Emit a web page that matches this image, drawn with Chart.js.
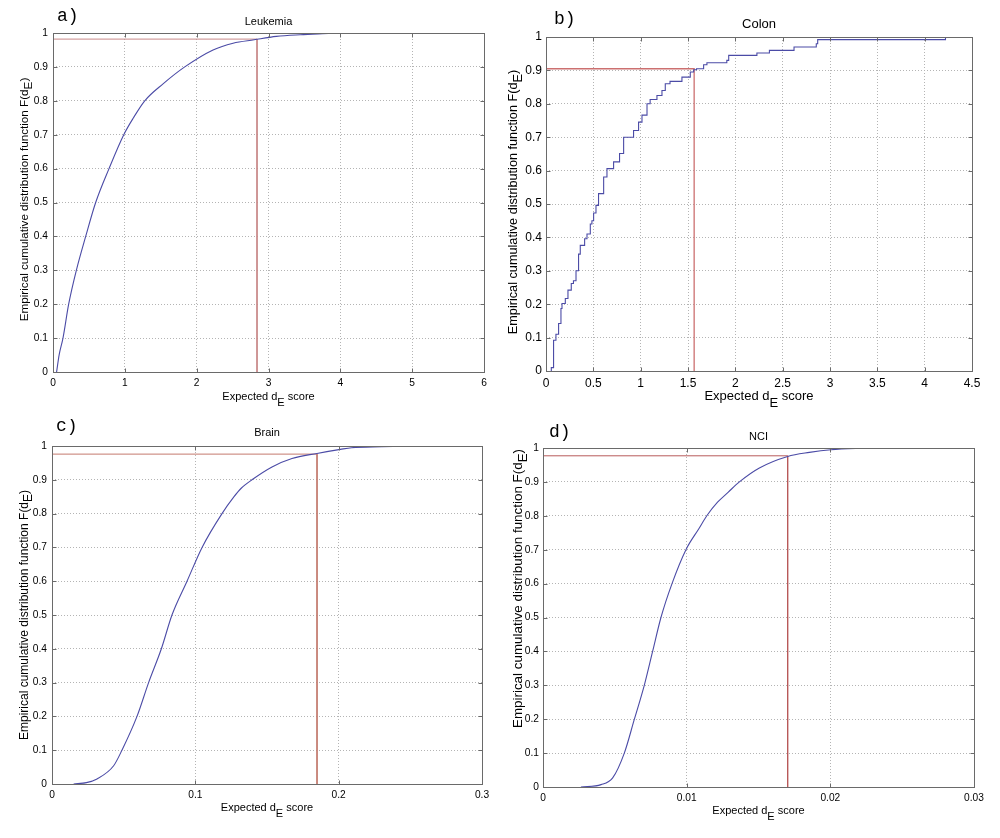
<!DOCTYPE html>
<html>
<head>
<meta charset="utf-8">
<title>Empirical CDF of expected dE score</title>
<script src="https://cdn.jsdelivr.net/npm/chart.js@4/dist/chart.umd.min.js"></script>
<style>
  html, body { margin: 0; padding: 0; background: #fff; }
  #page { position: relative; width: 1000px; height: 838px; }
  .panel { position: absolute; width: 500px; height: 419px; }
</style>
</head>
<body>
<div id="page">
  <div class="panel" style="left:0;top:0"><canvas id="leukChart"></canvas></div>
  <div class="panel" style="left:500px;top:0"><canvas id="colonChart"></canvas></div>
  <div class="panel" style="left:0;top:419px"><canvas id="brainChart"></canvas></div>
  <div class="panel" style="left:500px;top:419px"><canvas id="nciChart"></canvas></div>
</div>
<script>
// shared y axis
const yTicks = [0, 0.1, 0.2, 0.3, 0.4, 0.5, 0.6, 0.7, 0.8, 0.9, 1];
const yTickLabels = ['0', '0.1', '0.2', '0.3', '0.4', '0.5', '0.6', '0.7', '0.8', '0.9', '1'];

// a) Leukemia
const leukX = [0.05, 0.085, 0.139, 0.218, 0.325, 0.455, 0.594, 0.78, 0.985, 1.12, 1.277, 1.532,
  1.834, 2.228, 2.507, 2.80, 3.11, 3.44, 3.75, 4.0];
const leukY = [0, 0.05, 0.1, 0.2, 0.3, 0.4, 0.5, 0.6, 0.7, 0.75, 0.8, 0.85,
  0.9, 0.95, 0.97, 0.98, 0.99, 0.995, 0.998, 1.0];
const leukCut = [2.84, 0.982];
const leukTicks = [0, 1, 2, 3, 4, 5, 6];
const leukTickLabels = ['0', '1', '2', '3', '4', '5', '6'];

// b) Colon (step function)
const colonX = [0.05, 0.056, 0.08, 0.105, 0.133, 0.158, 0.169, 0.204, 0.232, 0.267, 0.29, 0.317, 0.344, 0.362,
  0.408, 0.433, 0.468, 0.485, 0.503, 0.528, 0.555, 0.609, 0.644, 0.714, 0.777, 0.82, 0.925, 0.978, 1.014,
  1.067, 1.10, 1.172, 1.225, 1.26, 1.31, 1.436, 1.524, 1.56, 1.59, 1.665, 1.70, 1.91, 1.93, 2.228, 2.36,
  2.62, 2.855, 2.87, 4.22];
const colonY = [0, 0.01, 0.092, 0.11, 0.142, 0.187, 0.202, 0.217, 0.242, 0.262, 0.27, 0.30, 0.35, 0.376,
  0.396, 0.41, 0.44, 0.45, 0.473, 0.496, 0.531, 0.581, 0.606, 0.626, 0.651, 0.70, 0.72, 0.745, 0.766,
  0.80, 0.813, 0.825, 0.84, 0.86, 0.867, 0.88, 0.895, 0.902, 0.905, 0.917, 0.923, 0.93, 0.945, 0.952, 0.96,
  0.97, 0.98, 0.992, 1.0];
const colonCut = [1.565, 0.905];
const colonTicks = [0, 0.5, 1, 1.5, 2, 2.5, 3, 3.5, 4, 4.5];
const colonTickLabels = ['0', '0.5', '1', '1.5', '2', '2.5', '3', '3.5', '4', '4.5'];

// c) Brain
const brainX = [0.0151, 0.024, 0.0314, 0.043, 0.0488, 0.0593, 0.0674, 0.0763, 0.0837, 0.0942, 0.1047,
  0.1186, 0.127, 0.132, 0.1395, 0.1535, 0.1674, 0.1849, 0.2012, 0.209, 0.23, 0.254];
const brainY = [0, 0.004, 0.015, 0.054, 0.1, 0.2, 0.3, 0.4, 0.5, 0.6, 0.7,
  0.8, 0.85, 0.875, 0.9, 0.938, 0.963, 0.978, 0.99, 0.995, 0.998, 1.0];
const brainCut = [0.1849, 0.976];
const brainTicks = [0, 0.1, 0.2, 0.3];
const brainTickLabels = ['0', '0.1', '0.2', '0.3'];

// d) NCI
const nciX = [0.00264, 0.00404, 0.00485, 0.00566, 0.00636, 0.00705, 0.00763, 0.00821, 0.00898, 0.00995,
  0.01088, 0.0114, 0.01215, 0.0129, 0.01367, 0.01506, 0.01703, 0.01854, 0.02005, 0.02262];
const nciY = [0, 0.007, 0.027, 0.1, 0.2, 0.3, 0.4, 0.5, 0.6, 0.7,
  0.764, 0.8, 0.84, 0.87, 0.9, 0.941, 0.975, 0.987, 0.995, 1.0];
const nciCut = [0.01703, 0.977];
const nciTicks = [0, 0.01, 0.02, 0.03];
const nciTickLabels = ['0', '0.01', '0.02', '0.03'];

const SANS = '"Liberation Sans", Arial, Helvetica, sans-serif';
const MONO = '"Liberation Mono", "Courier New", monospace';

// text with a lowered "E" in the middle: [before, sub, after]
function drawSub(ctx, parts, cx, y, size, drop) {
    ctx.font = size + 'px ' + SANS;
    const w = parts.map(p => ctx.measureText(p).width);
    let x = cx - (w[0] + w[1] + w[2]) / 2;
    ctx.textAlign = 'left';
    ctx.fillText(parts[0], x, y); x += w[0];
    ctx.fillText(parts[1], x, y + size * drop); x += w[1];
    ctx.fillText(parts[2], x, y);
}

// MATLAB style box, inward ticks, labels and titles
const matlabAxes = {
    id: 'matlabAxes',
    afterDraw(chart, args, o) {
        const { ctx, chartArea: a, scales: { x, y } } = chart;
        ctx.save();
        ctx.strokeStyle = '#6a6a6a';
        ctx.lineWidth = 1;
        const l = Math.round(a.left) + 0.5, t = Math.round(a.top) + 0.5;
        const r = Math.round(a.right) + 0.5, b = Math.round(a.bottom) + 0.5;
        ctx.strokeRect(l, t, r - l, b - t);
        ctx.beginPath();
        x.ticks.forEach(tk => {
            const px = Math.round(x.getPixelForValue(tk.value)) + 0.5;
            ctx.moveTo(px, b); ctx.lineTo(px, b - 4);
            ctx.moveTo(px, t); ctx.lineTo(px, t + 4);
        });
        y.ticks.forEach(tk => {
            const py = Math.round(y.getPixelForValue(tk.value)) + 0.5;
            ctx.moveTo(l, py); ctx.lineTo(l + 4, py);
            ctx.moveTo(r, py); ctx.lineTo(r - 4, py);
        });
        ctx.stroke();

        ctx.fillStyle = '#000';
        ctx.textBaseline = 'alphabetic';
        ctx.font = o.letterSize + 'px ' + MONO;
        ctx.textAlign = 'left';
        ctx.fillText(o.letter, o.letterX, o.letterY);

        const cx = (a.left + a.right) / 2;
        const cy = (a.top + a.bottom) / 2;
        ctx.font = o.size + 'px ' + SANS;
        ctx.textAlign = 'center';
        ctx.fillText(o.title, cx, o.titleY);

        drawSub(ctx, ['Expected d', 'E', ' score'], cx, o.xTitleY, o.size, 0.55);

        ctx.translate(o.yTitleX, cy + o.yShift);
        ctx.rotate(-Math.PI / 2);
        drawSub(ctx, ['Empirical cumulative distribution function F(d', 'E', ')'], 0, 0, o.ySize, 0.36);
        ctx.restore();
    }
};

function renderEcdf(canvasId, xs, ys, cut, xTicks, xLabels, look) {
    const canvas = document.getElementById(canvasId);
    if (!canvas) return;
    const curve = xs.map((v, i) => ({ x: v, y: ys[i] }));
    const marker = [{ x: 0, y: cut[1] }, { x: cut[0], y: cut[1] }, { x: cut[0], y: 0 }];
    new Chart(canvas, {
        type: 'line',
        data: {
            datasets: [{
                data: curve,
                borderColor: '#4b4ba6',
                borderWidth: 1.1,
                pointRadius: 0,
                stepped: look.stepped ? 'before' : false,
                cubicInterpolationMode: 'monotone',
                fill: false
            }, {
                data: marker,
                borderColor: look.cutColor,
                borderWidth: look.cutWidth,
                pointRadius: 0,
                tension: 0,
                fill: false
            }]
        },
        options: {
            responsive: true,
            maintainAspectRatio: false,
            animation: false,
            layout: { padding: { left: 0, top: look.top, right: look.right, bottom: 0 } },
            plugins: {
                legend: { display: false },
                tooltip: { enabled: false },
                matlabAxes: look.text
            },
            scales: {
                x: {
                    type: 'linear',
                    min: xTicks[0],
                    max: xTicks[xTicks.length - 1],
                    afterBuildTicks: s => { s.ticks = xTicks.map(v => ({ value: v })); },
                    afterFit: s => { s.height = look.bottom; },
                    grid: { color: '#b4b4b4', lineWidth: 1, drawTicks: false },
                    border: { display: false, dash: [1, 2] },
                    ticks: {
                        padding: 5,
                        color: '#000',
                        maxRotation: 0,
                        autoSkip: false,
                        font: { size: look.tickSize, family: SANS },
                        callback: (v, i) => xLabels[i]
                    }
                },
                y: {
                    type: 'linear',
                    min: 0,
                    max: 1,
                    afterBuildTicks: s => { s.ticks = yTicks.map(v => ({ value: v })); },
                    afterFit: s => { s.width = look.left; },
                    grid: { color: '#b4b4b4', lineWidth: 1, drawTicks: false },
                    border: { display: false, dash: [1, 2] },
                    ticks: {
                        padding: look.yPad,
                        color: '#000',
                        autoSkip: false,
                        font: { size: look.tickSize, family: SANS },
                        callback: (v, i) => yTickLabels[i]
                    }
                }
            }
        },
        plugins: [matlabAxes]
    });
}

renderEcdf('leukChart', leukX, leukY, leukCut, leukTicks, leukTickLabels, {
    left: 53, right: 16, top: 33, bottom: 47, tickSize: 10.2, yPad: 5, stepped: false,
    cutColor: '#c88888', cutWidth: 1,
    text: { letter: 'a)', letterX: 57, letterY: 21, letterSize: 18, title: 'Leukemia', titleY: 25,
            xTitleY: 400, yTitleX: 28, yShift: -3, size: 11, ySize: 11.7 }
});

renderEcdf('colonChart', colonX, colonY, colonCut, colonTicks, colonTickLabels, {
    left: 46, right: 28, top: 37, bottom: 48, tickSize: 12, yPad: 4, stepped: true,
    cutColor: '#cc7070', cutWidth: 1.3,
    text: { letter: 'b)', letterX: 54, letterY: 24, letterSize: 18, title: 'Colon', titleY: 28,
            xTitleY: 400, yTitleX: 17, yShift: -2, size: 13, ySize: 12.7 }
});

renderEcdf('brainChart', brainX, brainY, brainCut, brainTicks, brainTickLabels, {
    left: 52, right: 18, top: 27, bottom: 54, tickSize: 10.2, yPad: 5, stepped: false,
    cutColor: '#c47a6e', cutWidth: 1,
    text: { letter: 'c)', letterX: 56, letterY: 12, letterSize: 18, title: 'Brain', titleY: 17,
            xTitleY: 392, yTitleX: 28, yShift: 0, size: 11, ySize: 12 }
});

renderEcdf('nciChart', nciX, nciY, nciCut, nciTicks, nciTickLabels, {
    left: 43, right: 26, top: 29, bottom: 51, tickSize: 10.2, yPad: 4, stepped: false,
    cutColor: '#b85a5a', cutWidth: 1,
    text: { letter: 'd)', letterX: 49, letterY: 18, letterSize: 18, title: 'NCI', titleY: 21,
            xTitleY: 395, yTitleX: 22, yShift: -29, size: 11, ySize: 13.4 }
});
</script>
</body>
</html>
